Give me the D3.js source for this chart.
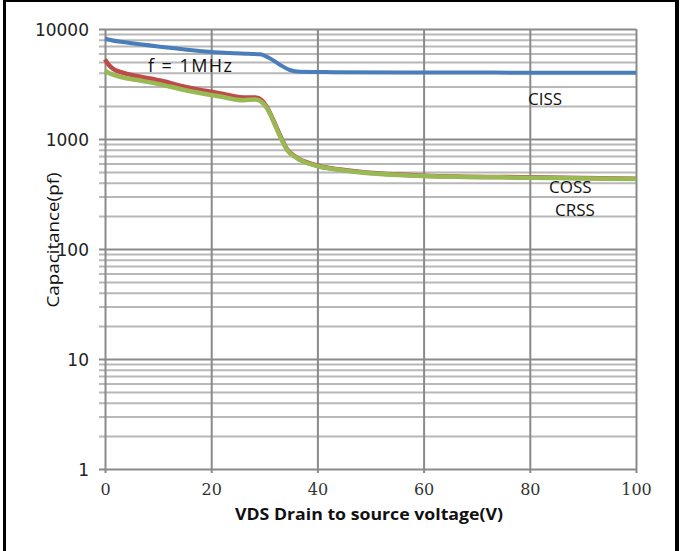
<!DOCTYPE html>
<html>
<head>
<meta charset="utf-8">
<script src="https://cdn.jsdelivr.net/npm/d3@7"></script>
<style>
  html, body { margin: 0; padding: 0; background: #fff; }
  svg { display: block; }
</style>
</head>
<body>
<div id="chart"></div>
<script>
(function() {
    'use strict';

    // drain-source voltage (V) and capacitance (pF)
    var cissV = [0, 1, 3.8, 10.4, 21.7, 27, 29.2, 31, 33, 34.8, 36.7, 40, 44, 60, 80, 100];
    var cissC = [8200, 7950, 7570, 6900, 6110, 5950, 5890, 5420, 4710, 4240, 4090, 4070, 4040, 4020, 4010, 4000];

    var cossV = [0, 0.6, 1.5, 3, 6.6, 10.4, 14.1, 21.7, 26, 28.3, 29.5, 30.5, 31.6, 33, 34.3, 36.2, 38.6, 40.5, 44.3, 60, 80, 100];
    var cossC = [5300, 4800, 4350, 4050, 3685, 3400, 3060, 2600, 2390, 2380, 2250, 1950, 1520, 1070, 805, 675, 600, 565, 527, 464, 448, 436];

    var crssV = [0, 0.6, 1.5, 3, 6.6, 10.4, 14.1, 21.7, 26, 28.3, 29.5, 30.5, 31.6, 33, 34.3, 36.2, 38.6, 40.5, 44.3, 60, 80, 100];
    var crssC = [4200, 4000, 3850, 3660, 3400, 3140, 2850, 2430, 2250, 2290, 2170, 1913, 1490, 1050, 794, 668, 593, 560, 523, 461, 445, 433];

    var xTicks = [0, 20, 40, 60, 80, 100];
    var yDecades = [1, 10, 100, 1000, 10000];

    var W = 684, H = 551;
    var margin = {top: 29, right: 48, bottom: 82, left: 105},
        width = W - margin.left - margin.right,
        height = H - margin.top - margin.bottom;

    var svg = d3.select("#chart").append("svg")
        .attr("width", W)
        .attr("height", H);

    // frame round the picture (no bottom edge)
    svg.append("line").attr("x1", 4.5).attr("x2", 4.5).attr("y1", 0).attr("y2", H)
        .attr("stroke", "#000").attr("stroke-width", 3);
    svg.append("line").attr("x1", 3).attr("x2", 679).attr("y1", 1).attr("y2", 1)
        .attr("stroke", "#000").attr("stroke-width", 2);
    svg.append("line").attr("x1", 677).attr("x2", 677).attr("y1", 0).attr("y2", H)
        .attr("stroke", "#000").attr("stroke-width", 4);

    var g = svg.append("g")
        .attr("transform", "translate(" + margin.left + "," + margin.top + ")");

    var x = d3.scaleLinear().domain([0, 100]).range([0, width]);
    var y = d3.scaleLog().domain([1, 10000]).range([height, 0]);

    // every 1..9 x 10^n value gets a grid line
    var yGrid = [];
    yDecades.forEach(function(d) {
        if (d === 10000) { yGrid.push(d); return; }
        for (var k = 1; k < 10; k++) yGrid.push(d * k);
    });

    // horizontal grid + y ticks
    var yAxis = g.append("g")
        .attr("class", "y axis")
        .call(d3.axisLeft(y)
            .tickValues(yGrid)
            .tickFormat(function(d) { return yDecades.indexOf(d) >= 0 ? d : ""; })
            .tickSizeOuter(0));
    yAxis.select(".domain").remove();
    yAxis.selectAll(".tick line")
        .attr("x1", -6)
        .attr("x2", width)
        .attr("stroke", function(d) { return yDecades.indexOf(d) >= 0 ? "#8a8a8a" : "#b8b8b8"; })
        .attr("stroke-width", 2);
    yAxis.selectAll(".tick text")
        .attr("x", -16)
        .attr("dy", "0.36em")
        .style("font-family", "'DejaVu Sans', sans-serif")
        .style("font-size", "17px")
        .attr("fill", "#222");

    // vertical grid + x ticks
    var xAxis = g.append("g")
        .attr("class", "x axis")
        .attr("transform", "translate(0," + height + ")")
        .call(d3.axisBottom(x).tickValues(xTicks).tickSizeOuter(0));
    xAxis.select(".domain").remove();
    xAxis.selectAll(".tick line")
        .attr("y1", 4)
        .attr("y2", -height)
        .attr("stroke", "#8a8a8a")
        .attr("stroke-width", 2);
    xAxis.selectAll(".tick text")
        .attr("y", 15)
        .attr("dy", "0.71em")
        .style("font-family", "'DejaVu Serif', serif")
        .style("font-size", "16px")
        .attr("fill", "#333");

    // curves
    var line = d3.line()
        .x(function(d) { return x(d[0]); })
        .y(function(d) { return y(d[1]); })
        .curve(d3.curveMonotoneX);

    var series = [
        {v: cissV, c: cissC, color: "#4a7ebb", w: 4},
        {v: cossV, c: cossC, color: "#be4b48", w: 4.5},
        {v: crssV, c: crssC, color: "#98b954", w: 4.5}
    ];

    series.forEach(function(s) {
        g.append("path")
            .datum(d3.zip(s.v, s.c))
            .attr("fill", "none")
            .attr("stroke", s.color)
            .attr("stroke-width", s.w)
            .attr("stroke-linejoin", "round")
            .attr("d", line);
    });

    // labels
    var font = "'Open Sans', sans-serif";
    svg.append("text")
        .attr("x", 148).attr("y", 72)
        .attr("textLength", 84).attr("lengthAdjust", "spacing")
        .style("font-family", font).style("font-size", "18px")
        .attr("fill", "#111")
        .text("f = 1MHz");
    svg.append("text").attr("x", 528).attr("y", 105)
        .style("font-family", font).style("font-size", "17px").attr("fill", "#111")
        .text("CISS");
    svg.append("text").attr("x", 549).attr("y", 193)
        .style("font-family", font).style("font-size", "17px").attr("fill", "#111")
        .text("COSS");
    svg.append("text").attr("x", 555).attr("y", 216)
        .style("font-family", font).style("font-size", "17px").attr("fill", "#111")
        .text("CRSS");

    // axis titles
    svg.append("text")
        .attr("x", 369).attr("y", 520)
        .attr("textLength", 268).attr("lengthAdjust", "spacingAndGlyphs")
        .style("text-anchor", "middle")
        .style("font-family", font).style("font-size", "16px").style("font-weight", "bold")
        .attr("fill", "#111")
        .text("VDS Drain to source voltage(V)");

    svg.append("text")
        .attr("transform", "translate(59,240) rotate(-90)")
        .attr("textLength", 135).attr("lengthAdjust", "spacingAndGlyphs")
        .style("text-anchor", "middle")
        .style("font-family", font).style("font-size", "17px")
        .attr("fill", "#111")
        .text("Capacitance(pf)");
})();
</script>
</body>
</html>
